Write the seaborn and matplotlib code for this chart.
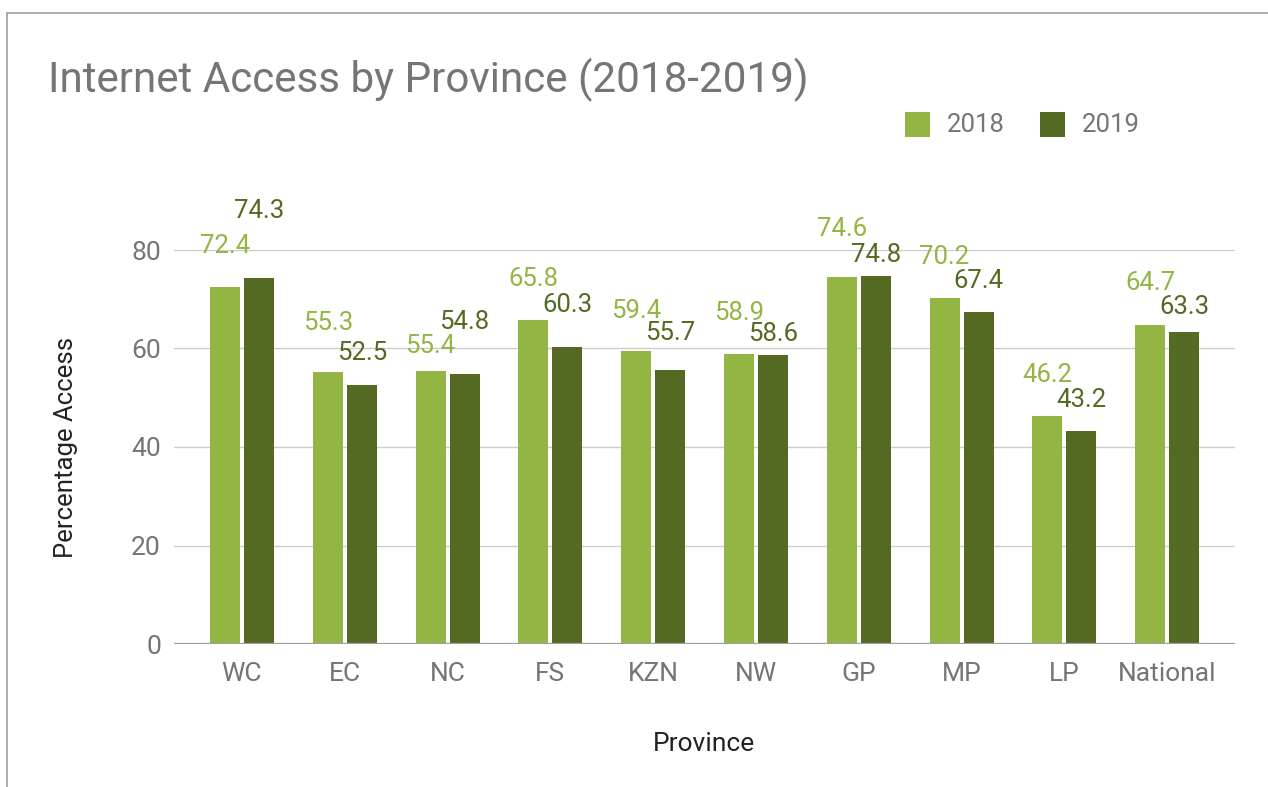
import matplotlib
matplotlib.use("Agg")
import matplotlib.pyplot as plt
from matplotlib.lines import Line2D
from matplotlib.patches import Rectangle
import seaborn as sns
import pandas as pd

# Share of households with internet access, by province
provinces = ["WC", "EC", "NC", "FS", "KZN", "NW", "GP", "MP", "LP", "National"]
access_2018 = [72.4, 55.3, 55.4, 65.8, 59.4, 58.9, 74.6, 70.2, 46.2, 64.7]
access_2019 = [74.3, 52.5, 54.8, 60.3, 55.7, 58.6, 74.8, 67.4, 43.2, 63.3]
years = ["2018", "2019"]
y_ticks = [0, 20, 40, 60, 80]

# How far (px) each value label sits above its bar, spread so neighbours don't collide
lift_2018 = [41, 49, 25, 41, 40, 41, 48, 41, 41, 42]
lift_2019 = [67, 32, 52, 42, 37, 21, 21, 31, 31, 25]

light_green = "#93b543"
dark_green = "#546a23"
grey_text = "#757575"
dark_text = "#222222"

df = pd.DataFrame({
    "Province": provinces * 2,
    "Year": [years[0]] * len(provinces) + [years[1]] * len(provinces),
    "Access": access_2018 + access_2019,
})

sns.set_theme(style="white")
plt.rcParams["font.family"] = ["Roboto", "DejaVu Sans"]

W, H, DPI = 1268, 787, 100
fig = plt.figure(figsize=(W / DPI, H / DPI), dpi=DPI)
ax = fig.add_axes([173.5 / W, (H - 644) / H, (1235 - 173.5) / W, 394 / H])

sns.barplot(
    data=df, x="Province", y="Access", hue="Year",
    palette=[light_green, dark_green], width=0.662, gap=0.12,
    saturation=1, ax=ax, legend=False, errorbar=None, zorder=3,
)
for patch in ax.patches:
    patch.set_edgecolor("none")

ax.set_xlim(-0.666, 9.66)
ax.set_ylim(0, 80)
ax.set_yticks(y_ticks)
ax.yaxis.grid(True, color="#cccccc", linewidth=1.0, zorder=0)
ax.axhline(0, color="#9e9e9e", linewidth=1.6, zorder=4)
for side in ["top", "right", "left", "bottom"]:
    ax.spines[side].set_visible(False)
ax.tick_params(axis="both", length=0, labelsize=19, colors=grey_text)
ax.tick_params(axis="x", pad=13)
ax.tick_params(axis="y", pad=9)

ax.set_xlabel("Province", fontsize=19, color=dark_text, labelpad=33)
ax.set_ylabel("Percentage Access", fontsize=18.5, color=dark_text, labelpad=38)

# Value labels above each bar
containers = ax.containers
for cont, vals, lifts, col in [
    (containers[0], access_2018, lift_2018, light_green),
    (containers[1], access_2019, lift_2019, dark_green),
]:
    for bar, v, lift in zip(cont, vals, lifts):
        cx = bar.get_x() + bar.get_width() / 2
        ax.annotate(
            f"{v:.1f}", xy=(cx, v), xytext=(0, lift * 72 / DPI),
            textcoords="offset points", ha="center", va="center",
            fontsize=18.5, color=col, annotation_clip=False, zorder=5,
        )

# Title
fig.text(48 / W, 1 - 80 / H, "Internet Access by Province (2018-2019)",
         fontsize=30.3, color=grey_text, ha="left", va="center")

# Legend
for sx, label, col in [(905, years[0], light_green), (1040, years[1], dark_green)]:
    fig.patches.append(Rectangle((sx / W, 1 - 137 / H), 25 / W, 25 / H,
                                 transform=fig.transFigure, facecolor=col,
                                 edgecolor="none"))
    fig.text((sx + 42) / W, 1 - 124.5 / H, label, fontsize=18.5,
             color=grey_text, ha="left", va="center")

# Outer frame along the top and left edges
fig.lines.append(Line2D([7 / W, 1], [1 - 13 / H, 1 - 13 / H],
                        transform=fig.transFigure, color="#9e9e9e", linewidth=1.2))
fig.lines.append(Line2D([7 / W, 7 / W], [0, 1 - 13 / H],
                        transform=fig.transFigure, color="#9e9e9e", linewidth=1.2))

fig.savefig("out.png", dpi=DPI, facecolor="white")
